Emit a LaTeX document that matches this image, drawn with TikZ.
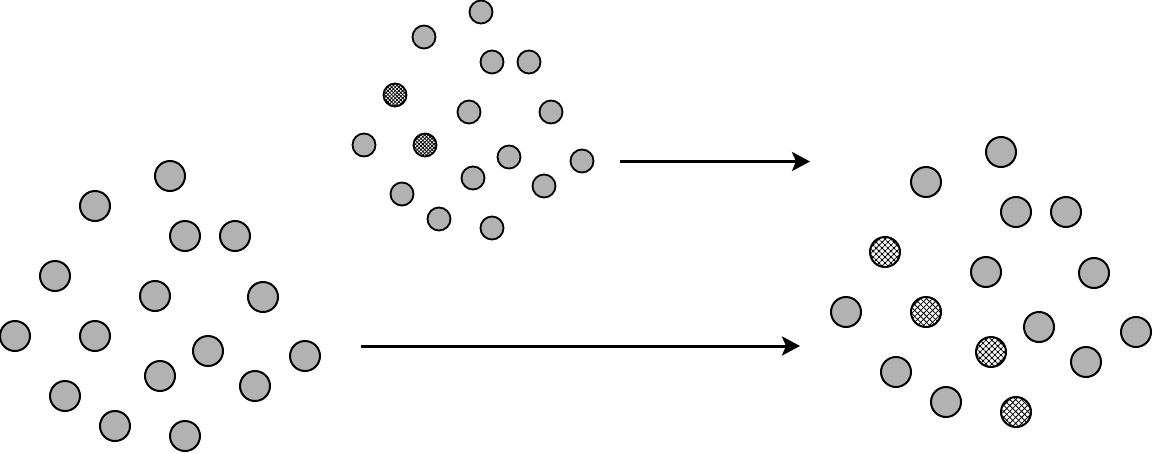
\documentclass[tikz,border=0pt]{standalone}
\usetikzlibrary{patterns.meta,arrows.meta}
\begin{document}
\begin{tikzpicture}[x=1pt,y=-1pt,
  ball/.style={circle,draw=black,line width=2pt,fill=gray!60,minimum size=30pt,inner sep=0pt},
  sball/.style={ball,minimum size=23pt,line width=1.8pt},
  hball/.style={ball,fill=white,postaction={pattern={Lines[angle=45,distance=4.2pt,line width=0.8pt]}},postaction={pattern={Lines[angle=-45,distance=4.2pt,line width=0.8pt]}}},
  hsball/.style={sball,fill=white,postaction={pattern={Lines[angle=45,distance=2.6pt,line width=0.8pt]}},postaction={pattern={Lines[angle=-45,distance=2.6pt,line width=0.8pt]}}},
  arr/.style={line width=3pt,-{Stealth[length=18pt,width=19pt,inset=4pt]}}]
\useasboundingbox (0,0) rectangle (1153,453);
% left set
\node[ball] (l1) at (170,176) {};
\node[ball] (l2) at (95,206) {};
\node[ball] (l3) at (185,236) {};
\node[ball] (l4) at (235,236) {};
\node[ball] (l5) at (55,276) {};
\node[ball] (l6) at (155,296) {};
\node[ball] (l7) at (263,297) {};
\node[ball] (l8) at (15,336) {};
\node[ball] (l9) at (95,336) {};
\node[ball] (l10) at (208,351) {};
\node[ball] (l11) at (305,356) {};
\node[ball] (l12) at (160,376) {};
\node[ball] (l13) at (255,386) {};
\node[ball] (l14) at (65,396) {};
\node[ball] (l15) at (115,426) {};
\node[ball] (l16) at (185,436) {};
% top set
\node[sball] (t1) at (481,12) {};
\node[sball] (t2) at (424,37) {};
\node[sball] (t3) at (492,62) {};
\node[sball] (t4) at (529,62) {};
\node[hsball] (t5) at (395,95) {};
\node[sball] (t6) at (469,112) {};
\node[sball] (t7) at (551,112) {};
\node[sball] (t8) at (364,145) {};
\node[hsball] (t9) at (425,145) {};
\node[sball] (t10) at (509,157) {};
\node[sball] (t11) at (582,161) {};
\node[sball] (t12) at (473,178) {};
\node[sball] (t13) at (544,186) {};
\node[sball] (t14) at (402,194) {};
\node[sball] (t15) at (439,219) {};
\node[sball] (t16) at (492,228) {};
% right set
\node[ball] (r1) at (1001,152) {};
\node[ball] (r2) at (926,182) {};
\node[ball] (r3) at (1016,212) {};
\node[ball] (r4) at (1066,212) {};
\node[hball] (r5) at (885,252) {};
\node[ball] (r6) at (986,272) {};
\node[ball] (r7) at (1094,273) {};
\node[ball] (r8) at (846,312) {};
\node[hball] (r9) at (926,312) {};
\node[ball] (r10) at (1039,327) {};
\node[ball] (r11) at (1136,332) {};
\node[hball] (r12) at (991,352) {};
\node[ball] (r13) at (1086,362) {};
\node[ball] (r14) at (896,372) {};
\node[ball] (r15) at (946,402) {};
\node[hball] (r16) at (1016,412) {};
% arrows
\coordinate (a1s) at (620,161.5);
\coordinate (a1e) at (810,161.5);
\coordinate (a2s) at (361,346);
\coordinate (a2e) at (800,346);
\draw[arr] (a1s) -- (a1e);
\draw[arr] (a2s) -- (a2e);
\end{tikzpicture}
\end{document}
